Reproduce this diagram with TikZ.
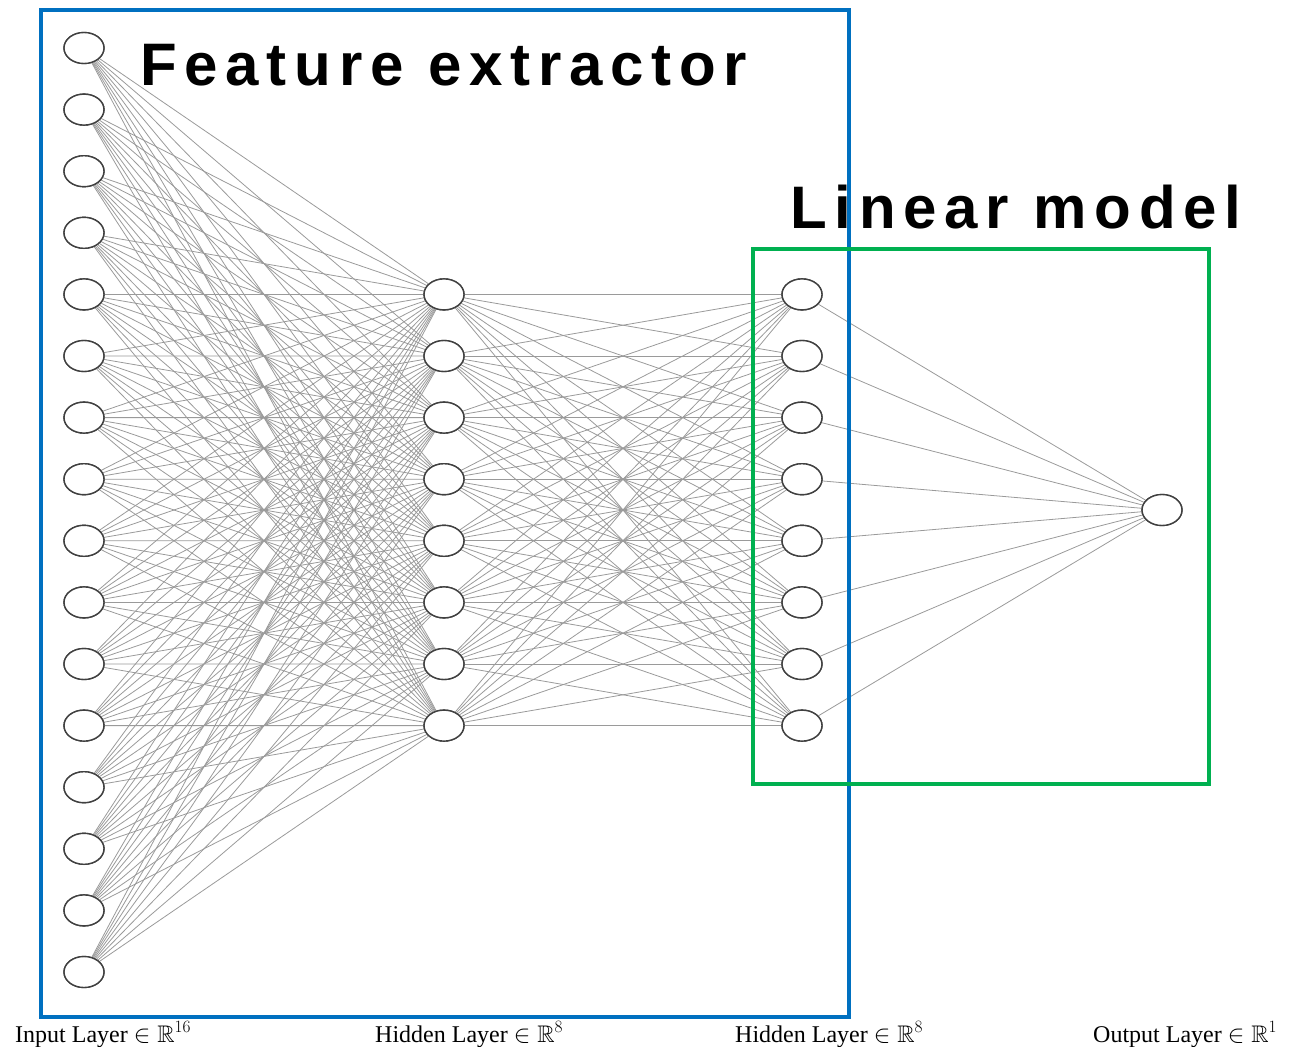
\documentclass[tikz,border=0pt]{standalone}
\usepackage{fontspec}
\usepackage{amssymb}
\usetikzlibrary{shapes.geometric}
\setmainfont{Liberation Serif}
\newfontfamily\titlefont[LetterSpace=13]{Liberation Sans}
\definecolor{boxblue}{HTML}{0070C0}
\definecolor{boxgreen}{HTML}{00B050}
\definecolor{edgegray}{HTML}{9A9A9A}
\definecolor{nodegray}{HTML}{404040}
\tikzset{
  neuron/.style={ellipse, draw=nodegray, line width=1.4pt, fill=white,
    minimum width=40pt, minimum height=31pt, inner sep=0pt},
  conn/.style={draw=edgegray, line width=0.8pt},
  titletext/.style={anchor=base west, inner sep=0pt, font=\titlefont\bfseries\fontsize{60}{70}\selectfont},
  layerlabel/.style={anchor=base west, inner sep=0pt, font=\fontsize{24}{28}\selectfont},
}
\begin{document}
\begin{tikzpicture}[x=1pt,y=-1pt]
\useasboundingbox (0,0) rectangle (1299,1047);
% nodes
\foreach \k in {1,...,16} {
  \node[neuron] (i\k) at (84, {48+61.6*(\k-1)}) {};
}
\foreach \k in {1,...,8} {
  \node[neuron] (h\k) at (444, {294.4+61.6*(\k-1)}) {};
  \node[neuron] (g\k) at (802, {294.4+61.6*(\k-1)}) {};
}
\node[neuron] (o1) at (1162, 510) {};
% connections
\foreach \a in {1,...,16} {
  \foreach \b in {1,...,8} {
    \draw[conn] (i\a) -- (h\b);
  }
}
\foreach \a in {1,...,8} {
  \foreach \b in {1,...,8} {
    \draw[conn] (h\a) -- (g\b);
  }
  \draw[conn] (g\a) -- (o1);
}
% redraw nodes on top of the connections
\foreach \k in {1,...,16} {
  \node[neuron] at (i\k) {};
}
\foreach \k in {1,...,8} {
  \node[neuron] at (h\k) {};
  \node[neuron] at (g\k) {};
}
\node[neuron] at (o1) {};
% boxes
\draw[boxblue, line width=4pt] (41,10) rectangle (849,1017);
\draw[boxgreen, line width=3.5pt] (753,249) rectangle (1209,784);
% titles
\node[titletext] (fe) at (140,85) {Feature extractor};
\node[titletext] (lm) at (790,228) {Linear model};
% layer labels
\node[layerlabel] (l1) at (15,1042) {Input Layer $\in \mathbb{R}^{16}$};
\node[layerlabel] (l2) at (375,1042) {Hidden Layer $\in \mathbb{R}^{8}$};
\node[layerlabel] (l3) at (735,1042) {Hidden Layer $\in \mathbb{R}^{8}$};
\node[layerlabel] (l4) at (1093,1042) {Output Layer $\in \mathbb{R}^{1}$};
\end{tikzpicture}
\end{document}
